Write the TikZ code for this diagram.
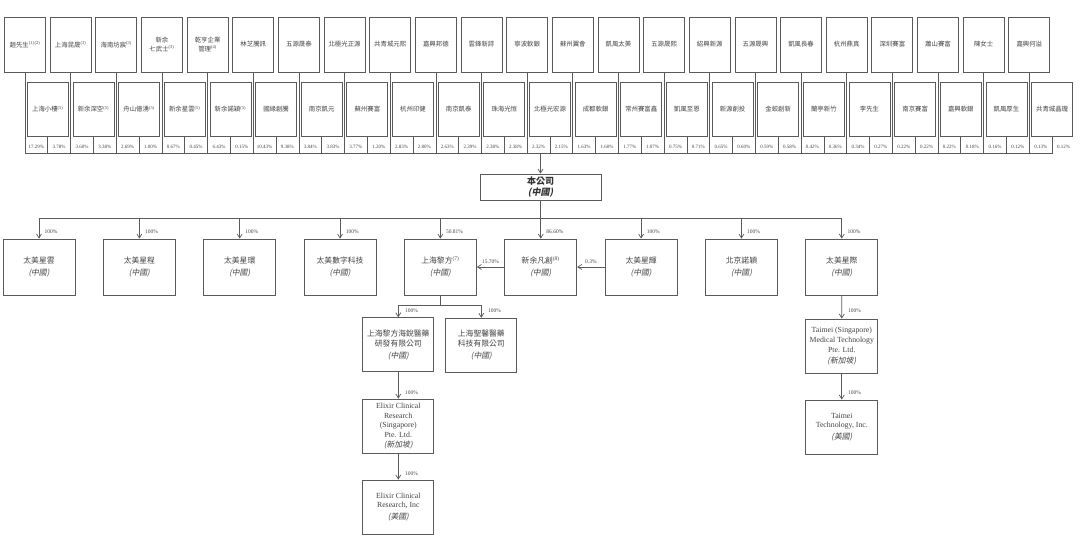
\documentclass[tikz,border=0pt]{standalone}
\usepackage{fontspec}
\setmainfont{Liberation Serif}
\newfontfamily\cjk{Noto Sans CJK TC}
\newfontfamily\cjkit[FakeSlant=0.2]{Noto Sans CJK TC}
\usetikzlibrary{arrows.meta}
\definecolor{ln}{HTML}{5A5A5A}
\definecolor{tx}{HTML}{444444}
\newcommand{\fn}[1]{\textsuperscript{\rmfamily(#1)}}
\newcommand{\cnit}[1]{{\cjkit(#1)}}
\tikzset{
  shbox/.style={draw=ln, line width=0.8pt, minimum width=41pt, minimum height=55pt, inner sep=1pt,
    align=center, font=\cjk\fontsize{6.4}{8.5}\selectfont, text=tx},
  pct/.style={font=\fontsize{5}{5}\selectfont, text=tx, inner sep=0pt},
  subbox/.style={draw=ln, line width=0.8pt, minimum width=72pt, minimum height=56pt, inner sep=1pt,
    align=center, font=\fontsize{7.8}{9.8}\selectfont, text=tx},
  conn/.style={draw=ln, line width=0.7pt},
  arr/.style={conn, -{Straight Barb[length=4pt,width=5pt]}},
  lbl/.style={font=\fontsize{5.5}{6}\selectfont, text=tx, inner sep=0pt, anchor=west},
}
\begin{document}
\begin{tikzpicture}[x=1pt,y=-1pt]
\useasboundingbox[fill=white] (0,0) rectangle (1080,543);
\coordinate (busL) at (25,153);
\coordinate (busR) at (1052.8,153);
\draw[conn] (busL) -- (busR);
% shareholders: top row / second row / percentages
\foreach \a/\p/\b/\q [count=\k from 0] in {
  {趙先生\fn{1}\fn{2}}/17.29/{上海小樓\fn{5}}/3.78,
  {上海昆晟\fn{3}}/3.60/{新余深空\fn{5}}/3.38,
  {海南坊宸\fn{3}}/2.69/{舟山億湧\fn{5}}/1.00,
  {新余\\七武士\fn{3}}/0.67/{新余星雲\fn{5}}/0.45,
  {乾亨企業\\管理\fn{4}}/6.43/{新余諾穎\fn{5}}/0.15,
  {林芝騰訊}/10.43/{國緣創騰}/9.38,
  {五源晟泰}/3.84/{南京凱元}/3.83,
  {北極光正源}/3.77/{蘇州賽富}/1.20,
  {共青城元熙}/2.83/{杭州印健}/2.80,
  {嘉興邦德}/2.63/{南京凱泰}/2.39,
  {雲鋒新詩}/2.38/{珠海光恒}/2.38,
  {寧波軟銀}/2.32/{北極光宏源}/2.15,
  {蘇州翼會}/1.63/{成都軟銀}/1.60,
  {凱風太美}/1.77/{常州賽富鑫}/1.07,
  {五源晟熙}/0.75/{凱風至恩}/0.71,
  {紹興新源}/0.65/{新源創投}/0.60,
  {五源晟興}/0.59/{金蛟創新}/0.58,
  {凱風長春}/0.42/{蘭亭新竹}/0.36,
  {杭州鼎真}/0.34/{李先生}/0.27,
  {深圳賽富}/0.22/{南京賽富}/0.22,
  {蕭山賽富}/0.22/{嘉興軟銀}/0.18,
  {陳女士}/0.16/{凱風厚生}/0.12,
  {嘉興何溢}/0.13/{共青城晶瓏}/0.12}{
  \node[shbox] (t\k) at ({25+45.65*\k},44.5) {\a};
  \node[shbox, minimum height=54pt] (s\k) at ({47.8+45.65*\k},109) {\b};
  \draw[conn] (t\k.south) -- (t\k.south |- busL);
  \draw[conn] (s\k.south) -- (s\k.south |- busL);
  \node[pct] at ({36.4+45.65*\k},147) {\p\%};
  \node[pct] at ({59.2+45.65*\k},147) {\q\%};
}
% company
\node[draw=ln, line width=0.8pt, minimum width=121pt, minimum height=26pt, inner sep=1pt, align=center,
  font=\cjk\bfseries\fontsize{9}{10.5}\selectfont, text=black!80] (main) at (540.5,187) {本公司\\{\cjkit(中國)}};
\draw[arr] (main.north |- busL) -- (main.north);
% subsidiaries
\coordinate (bus2L) at (39,218.5);
\coordinate (bus2R) at (841.8,218.5);
\draw[conn] (bus2L) -- (bus2R);
\draw[conn] (main.south) -- (main.south |- bus2L);
\foreach \n/\p [count=\j from 0] in {
  {{\cjk 太美星雲}}/100,
  {{\cjk 太美星程}}/100,
  {{\cjk 太美星環}}/100,
  {{\cjk 太美數字科技}}/100,
  {{\cjk 上海黎方}\fn{7}}/50.81,
  {{\cjk 新余凡創}\fn{8}}/86.60,
  {{\cjk 太美星輝}}/100,
  {{\cjk 北京諾穎}}/100,
  {{\cjk 太美星際}}/100}{
  \node[subbox] (c\j) at ({39+100.35*\j},267) {\n\\[2pt]\cnit{中國}};
  \draw[arr] (c\j.north |- bus2L) -- (c\j.north);
  \node[lbl] at ({44.5+100.35*\j},231.5) {\p\%};
}
\draw[arr] (c6.west) -- (c5.east) node[midway, above=3pt, font=\fontsize{5.5}{6}\selectfont, text=tx, inner sep=0pt] {0.3\%};
\draw[arr] (c5.west) -- (c4.east) node[midway, above=3pt, font=\fontsize{5.5}{6}\selectfont, text=tx, inner sep=0pt] {15.70\%};
% Shanghai subtree
\node[subbox, minimum width=71pt, minimum height=54pt] (g1) at (398.3,344.7)
  {{\cjk 上海黎方海銳醫藥}\\{\cjk 研發有限公司}\\[2pt]\cnit{中國}};
\node[subbox, minimum width=71pt, minimum height=54pt] (g2) at (481.3,345.2)
  {{\cjk 上海聖馨醫藥}\\{\cjk 科技有限公司}\\[2pt]\cnit{中國}};
\coordinate (j1) at (440.4,305);
\draw[conn] (c4.south) -- (j1);
\draw[conn] (g1.north |- j1) -- (g2.north |- j1);
\draw[arr] (g1.north |- j1) -- (g1.north);
\draw[arr] (g2.north |- j1) -- (g2.north);
\node[lbl] at (405,310.7) {100\%};
\node[lbl] at (488,310.7) {100\%};
\node[subbox, minimum width=71pt, minimum height=54pt] (g3) at (398.3,426)
  {Elixir Clinical\\Research\\(Singapore)\\Pte. Ltd.\\\cnit{新加坡}};
\draw[arr] (g1.south) -- (g3.north);
\node[lbl] at (405,392.7) {100\%};
\node[subbox, minimum width=71pt, minimum height=54pt] (g4) at (398.3,507)
  {Elixir Clinical\\Research, Inc\\[2pt]\cnit{美國}};
\draw[arr] (g3.south) -- (g4.north);
\node[lbl] at (405,474) {100\%};
% Singapore subtree
\node[subbox, minimum width=72pt, minimum height=54pt] (r1) at (841.8,346)
  {Taimei (Singapore)\\Medical Technology\\Pte. Ltd.\\[1pt]\cnit{新加坡}};
\draw[arr] (c8.south) -- (r1.north);
\node[lbl] at (848,310.7) {100\%};
\node[subbox, minimum width=72pt, minimum height=54pt] (r2) at (841.8,427)
  {Taimei\\Technology, Inc.\\[2pt]\cnit{美國}};
\draw[arr] (r1.south) -- (r2.north);
\node[lbl] at (848,393) {100\%};
\end{tikzpicture}
\end{document}
